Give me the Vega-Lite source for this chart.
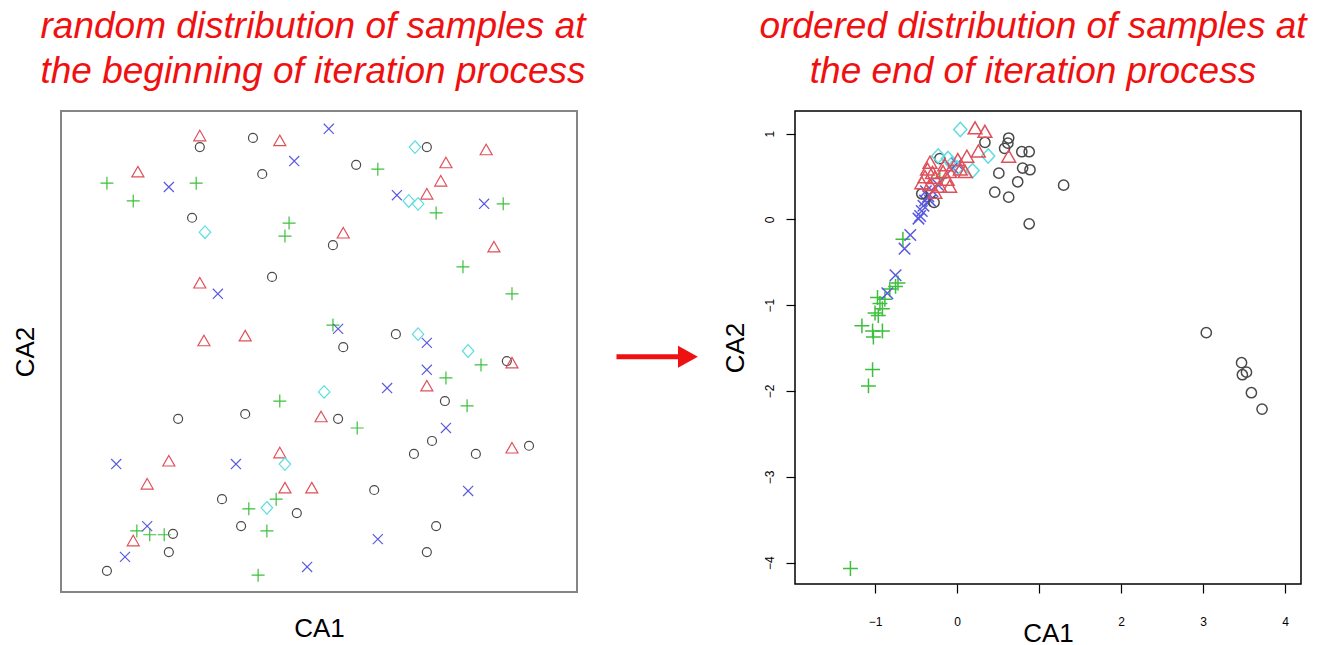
{
  "$schema": "https://vega.github.io/schema/vega-lite/v6.json",
  "autosize": "pad",
  "padding": {"left": 11, "top": 7, "right": 5, "bottom": 0},
  "spacing": 0,
  "background": "white",
  "config": {
    "font": "Liberation Sans",
    "view": {"stroke": null},
    "axis": {"grid": false},
    "title": {
      "font": "Liberation Sans",
      "fontSize": 37,
      "fontStyle": "italic",
      "fontWeight": "normal",
      "color": "#f01010",
      "lineHeight": 45,
      "anchor": "middle",
      "frame": "group",
      "offset": 20
    }
  },
  "datasets": {
    "left": [
      {"x": 26.9, "y": 92.5, "c": "o"}, {"x": 37.2, "y": 94.4, "c": "o"}, {"x": 39.0, "y": 86.9, "c": "o"}, {"x": 25.4, "y": 77.8, "c": "o"},
      {"x": 40.9, "y": 65.5, "c": "o"}, {"x": 57.2, "y": 88.8, "c": "o"}, {"x": 70.9, "y": 92.5, "c": "o"}, {"x": 52.7, "y": 72.1, "c": "o"},
      {"x": 64.9, "y": 53.6, "c": "o"}, {"x": 54.7, "y": 50.9, "c": "o"}, {"x": 22.7, "y": 36.0, "c": "o"}, {"x": 35.7, "y": 37.0, "c": "o"},
      {"x": 31.2, "y": 19.3, "c": "o"}, {"x": 45.7, "y": 16.4, "c": "o"}, {"x": 34.9, "y": 13.7, "c": "o"}, {"x": 21.7, "y": 12.1, "c": "o"},
      {"x": 20.9, "y": 8.3, "c": "o"}, {"x": 8.9, "y": 4.4, "c": "o"}, {"x": 86.4, "y": 48.0, "c": "o"}, {"x": 74.4, "y": 39.7, "c": "o"},
      {"x": 53.7, "y": 36.0, "c": "o"}, {"x": 71.9, "y": 31.4, "c": "o"}, {"x": 68.4, "y": 28.7, "c": "o"}, {"x": 80.4, "y": 28.7, "c": "o"},
      {"x": 90.7, "y": 30.4, "c": "o"}, {"x": 60.7, "y": 21.2, "c": "o"}, {"x": 72.7, "y": 13.7, "c": "o"}, {"x": 70.9, "y": 8.3, "c": "o"},
      {"x": 26.9, "y": 94.6, "c": "tri"}, {"x": 42.4, "y": 93.6, "c": "tri"}, {"x": 14.9, "y": 87.1, "c": "tri"}, {"x": 26.9, "y": 64.0, "c": "tri"},
      {"x": 27.7, "y": 52.0, "c": "tri"}, {"x": 35.7, "y": 53.0, "c": "tri"}, {"x": 82.4, "y": 91.7, "c": "tri"}, {"x": 74.6, "y": 89.0, "c": "tri"},
      {"x": 73.6, "y": 85.2, "c": "tri"}, {"x": 70.9, "y": 82.5, "c": "tri"}, {"x": 54.7, "y": 74.4, "c": "tri"}, {"x": 83.9, "y": 71.5, "c": "tri"},
      {"x": 50.4, "y": 36.2, "c": "tri"}, {"x": 42.4, "y": 28.7, "c": "tri"}, {"x": 20.9, "y": 27.0, "c": "tri"}, {"x": 16.7, "y": 22.2, "c": "tri"},
      {"x": 43.4, "y": 21.4, "c": "tri"}, {"x": 48.6, "y": 21.4, "c": "tri"}, {"x": 14.0, "y": 10.4, "c": "tri"}, {"x": 87.4, "y": 47.4, "c": "tri"},
      {"x": 70.9, "y": 42.6, "c": "tri"}, {"x": 87.4, "y": 29.7, "c": "tri"},
      {"x": 8.9, "y": 85.0, "c": "plus"}, {"x": 26.2, "y": 85.0, "c": "plus"}, {"x": 14.0, "y": 81.3, "c": "plus"}, {"x": 44.2, "y": 76.7, "c": "plus"},
      {"x": 43.4, "y": 74.0, "c": "plus"}, {"x": 61.4, "y": 87.9, "c": "plus"}, {"x": 72.7, "y": 78.8, "c": "plus"}, {"x": 85.7, "y": 80.7, "c": "plus"},
      {"x": 77.9, "y": 67.6, "c": "plus"}, {"x": 87.4, "y": 62.0, "c": "plus"}, {"x": 52.7, "y": 55.5, "c": "plus"}, {"x": 42.4, "y": 39.7, "c": "plus"},
      {"x": 41.7, "y": 19.3, "c": "plus"}, {"x": 36.4, "y": 17.3, "c": "plus"}, {"x": 14.7, "y": 12.7, "c": "plus"}, {"x": 17.2, "y": 11.9, "c": "plus"},
      {"x": 20.0, "y": 11.9, "c": "plus"}, {"x": 39.9, "y": 12.7, "c": "plus"}, {"x": 38.2, "y": 3.5, "c": "plus"}, {"x": 81.4, "y": 47.2, "c": "plus"},
      {"x": 74.6, "y": 44.5, "c": "plus"}, {"x": 78.7, "y": 38.7, "c": "plus"}, {"x": 57.4, "y": 34.1, "c": "plus"},
      {"x": 51.9, "y": 96.3, "c": "x"}, {"x": 45.2, "y": 89.6, "c": "x"}, {"x": 20.9, "y": 84.2, "c": "x"}, {"x": 30.4, "y": 62.0, "c": "x"},
      {"x": 65.1, "y": 82.5, "c": "x"}, {"x": 82.0, "y": 80.7, "c": "x"}, {"x": 53.7, "y": 54.7, "c": "x"}, {"x": 70.9, "y": 51.8, "c": "x"},
      {"x": 10.7, "y": 26.6, "c": "x"}, {"x": 33.9, "y": 26.6, "c": "x"}, {"x": 16.7, "y": 13.7, "c": "x"}, {"x": 12.4, "y": 7.3, "c": "x"},
      {"x": 47.7, "y": 5.2, "c": "x"}, {"x": 70.9, "y": 46.2, "c": "x"}, {"x": 63.2, "y": 42.4, "c": "x"}, {"x": 74.6, "y": 34.1, "c": "x"},
      {"x": 78.9, "y": 21.0, "c": "x"}, {"x": 61.4, "y": 11.0, "c": "x"},
      {"x": 27.9, "y": 74.8, "c": "dia"}, {"x": 68.6, "y": 92.5, "c": "dia"}, {"x": 67.4, "y": 81.3, "c": "dia"}, {"x": 69.2, "y": 80.7, "c": "dia"},
      {"x": 69.2, "y": 53.6, "c": "dia"}, {"x": 78.9, "y": 50.1, "c": "dia"}, {"x": 51.0, "y": 41.6, "c": "dia"}, {"x": 43.4, "y": 26.6, "c": "dia"},
      {"x": 39.9, "y": 17.5, "c": "dia"}
    ],
    "right": [
      {"x": -0.66, "y": -0.23, "c": "plus"}, {"x": -0.72, "y": -0.74, "c": "plus"}, {"x": -0.75, "y": -0.78, "c": "plus"}, {"x": -0.82, "y": -0.81, "c": "plus"},
      {"x": -0.88, "y": -0.93, "c": "plus"}, {"x": -0.94, "y": -0.98, "c": "plus"}, {"x": -0.97, "y": -0.91, "c": "plus"}, {"x": -0.91, "y": -1.04, "c": "plus"},
      {"x": -1.00, "y": -1.09, "c": "plus"}, {"x": -0.96, "y": -1.12, "c": "plus"}, {"x": -1.16, "y": -1.24, "c": "plus"}, {"x": -1.03, "y": -1.30, "c": "plus"},
      {"x": -0.91, "y": -1.30, "c": "plus"}, {"x": -1.02, "y": -1.37, "c": "plus"}, {"x": -1.03, "y": -1.75, "c": "plus"}, {"x": -1.08, "y": -1.94, "c": "plus"},
      {"x": -1.30, "y": -4.07, "c": "plus"}, {"x": -0.21, "y": 0.48, "c": "plus"},
      {"x": -0.24, "y": 0.41, "c": "x"}, {"x": -0.30, "y": 0.33, "c": "x"}, {"x": -0.35, "y": 0.27, "c": "x"}, {"x": -0.39, "y": 0.22, "c": "x"},
      {"x": -0.41, "y": 0.16, "c": "x"}, {"x": -0.43, "y": 0.10, "c": "x"}, {"x": -0.45, "y": 0.04, "c": "x"}, {"x": -0.47, "y": 0.01, "c": "x"},
      {"x": -0.05, "y": 0.60, "c": "x"}, {"x": 0.0, "y": 0.65, "c": "x"}, {"x": -0.57, "y": -0.18, "c": "x"}, {"x": -0.64, "y": -0.34, "c": "x"},
      {"x": -0.75, "y": -0.65, "c": "x"}, {"x": -0.85, "y": -0.86, "c": "x"}, {"x": -0.38, "y": 0.33, "c": "x"}, {"x": -0.33, "y": 0.22, "c": "x"},
      {"x": 0.34, "y": 0.90, "c": "o"}, {"x": 0.63, "y": 0.95, "c": "o"}, {"x": 0.62, "y": 0.89, "c": "o"}, {"x": 0.58, "y": 0.83, "c": "o"},
      {"x": 0.79, "y": 0.79, "c": "o"}, {"x": 0.88, "y": 0.79, "c": "o"}, {"x": 0.80, "y": 0.60, "c": "o"}, {"x": 0.89, "y": 0.58, "c": "o"},
      {"x": 0.51, "y": 0.54, "c": "o"}, {"x": 0.74, "y": 0.44, "c": "o"}, {"x": 1.30, "y": 0.40, "c": "o"}, {"x": 0.46, "y": 0.32, "c": "o"},
      {"x": 0.63, "y": 0.26, "c": "o"}, {"x": 0.88, "y": -0.05, "c": "o"}, {"x": 3.04, "y": -1.32, "c": "o"}, {"x": 3.47, "y": -1.67, "c": "o"},
      {"x": 3.53, "y": -1.78, "c": "o"}, {"x": 3.48, "y": -1.81, "c": "o"}, {"x": 3.59, "y": -2.02, "c": "o"}, {"x": 3.72, "y": -2.21, "c": "o"},
      {"x": -0.43, "y": 0.30, "c": "o"}, {"x": -0.28, "y": 0.20, "c": "o"}, {"x": -0.21, "y": 0.71, "c": "o"},
      {"x": 0.04, "y": 1.05, "c": "dia"}, {"x": -0.23, "y": 0.74, "c": "dia"}, {"x": -0.11, "y": 0.71, "c": "dia"}, {"x": 0.38, "y": 0.74, "c": "dia"},
      {"x": 0.19, "y": 0.57, "c": "dia"}, {"x": 0.0, "y": 0.60, "c": "dia"}, {"x": -0.06, "y": 0.65, "c": "dia"},
      {"x": 0.22, "y": 1.05, "c": "tri"}, {"x": 0.34, "y": 1.01, "c": "tri"}, {"x": 0.26, "y": 0.78, "c": "tri"}, {"x": 0.63, "y": 0.72, "c": "tri"},
      {"x": 0.12, "y": 0.72, "c": "tri"}, {"x": 0.01, "y": 0.68, "c": "tri"}, {"x": -0.33, "y": 0.65, "c": "tri"}, {"x": -0.36, "y": 0.57, "c": "tri"},
      {"x": -0.30, "y": 0.53, "c": "tri"}, {"x": -0.17, "y": 0.54, "c": "tri"}, {"x": -0.09, "y": 0.54, "c": "tri"}, {"x": 0.04, "y": 0.57, "c": "tri"},
      {"x": 0.10, "y": 0.54, "c": "tri"}, {"x": -0.39, "y": 0.48, "c": "tri"}, {"x": -0.27, "y": 0.47, "c": "tri"}, {"x": -0.12, "y": 0.45, "c": "tri"},
      {"x": -0.21, "y": 0.37, "c": "tri"}, {"x": -0.09, "y": 0.37, "c": "tri"}, {"x": -0.33, "y": 0.39, "c": "tri"}, {"x": -0.27, "y": 0.30, "c": "tri"},
      {"x": -0.15, "y": 0.62, "c": "tri"}, {"x": -0.43, "y": 0.41, "c": "tri"}
    ],
    "arrow": [{"x0": 0.22, "x1": 0.70, "xh": 0.745, "y": 0.489}]
  },
  "hconcat": [
    {
      "width": 516,
      "height": 481,
      "view": {"stroke": "#858585", "strokeWidth": 2},
      "title": {"text": ["random distribution of samples at", "the beginning of iteration process"], "dx": -6},
      "data": {"name": "left"},
      "mark": {"type": "point", "filled": false, "strokeWidth": 1.2, "opacity": 1, "size": 196},
      "encoding": {
        "x": {"field": "x", "type": "quantitative", "scale": {"domain": [0, 100], "nice": false, "zero": false},
              "axis": {"title": "CA1", "labels": false, "ticks": false, "domain": false, "tickSize": 0, "labelPadding": 0,
                       "titleFont": "Liberation Sans", "titleFontSize": 26, "titleFontWeight": "normal", "titleColor": "#000000", "titlePadding": 23}},
        "y": {"field": "y", "type": "quantitative", "scale": {"domain": [0, 100], "nice": false, "zero": false},
              "axis": {"title": "CA2", "labels": false, "ticks": false, "domain": false, "tickSize": 0, "labelPadding": 0,
                       "titleFont": "Liberation Sans", "titleFontSize": 26, "titleFontWeight": "normal", "titleColor": "#000000", "titlePadding": 23}},
        "shape": {"field": "c", "type": "nominal", "legend": null,
                  "scale": {"domain": ["o", "tri", "plus", "x", "dia"],
                            "range": ["M0.64,0A0.64,0.64,0,1,1,-0.64,0A0.64,0.64,0,1,1,0.64,0Z", "M0,-0.95L0.86,0.55L-0.86,0.55Z", "M-0.93,0L0.93,0M0,-0.93L0,0.93", "M-0.72,-0.72L0.72,0.72M-0.72,0.72L0.72,-0.72", "M0,-0.9L0.82,0L0,0.9L-0.82,0Z"]}},
        "color": {"field": "c", "type": "nominal", "legend": null,
                  "scale": {"domain": ["o", "tri", "plus", "x", "dia"], "range": ["#4a4a4a", "#e0505a", "#3cc03c", "#5a5ae0", "#5ddde0"]}}
      }
    },
    {
      "width": 134,
      "height": 481,
      "view": {"stroke": null},
      "title": {"text": [" ", " "]},
      "data": {"name": "arrow"},
      "layer": [
        {
          "mark": {"type": "rule", "strokeWidth": 5, "color": "#ee1111"},
          "encoding": {
            "x": {"field": "x0", "type": "quantitative", "scale": {"domain": [0, 1], "nice": false}, "axis": null},
            "x2": {"field": "x1"},
            "y": {"field": "y", "type": "quantitative", "scale": {"domain": [0, 1], "nice": false}, "axis": null}
          }
        },
        {
          "mark": {"type": "point", "shape": "M-0.8,-1L1,0L-0.8,1Z", "filled": true, "size": 484, "color": "#ee1111", "opacity": 1, "strokeWidth": 0},
          "encoding": {
            "x": {"field": "xh", "type": "quantitative"},
            "y": {"field": "y", "type": "quantitative"}
          }
        }
      ]
    },
    {
      "width": 506,
      "height": 473,
      "view": {"stroke": "#000000", "strokeWidth": 1.5},
      "title": {"text": ["ordered distribution of samples at", "the end of iteration process"], "dx": -15},
      "data": {"name": "right"},
      "mark": {"type": "point", "filled": false, "strokeWidth": 1.5, "opacity": 1, "size": 256},
      "encoding": {
        "x": {"field": "x", "type": "quantitative", "scale": {"domain": [-1.976, 4.195], "nice": false, "zero": false},
              "axis": {"title": "CA1", "values": [-1, 0, 1, 2, 3, 4], "labelExpr": "datum.value == 1 ? '' : datum.label",
                       "domain": false, "ticks": true, "tickSize": 9, "tickColor": "#000000", "tickWidth": 1.2,
                       "labelFont": "Liberation Sans", "labelFontSize": 12, "labelColor": "#000000", "labelPadding": 23,
                       "titleFont": "Liberation Sans", "titleFontSize": 26, "titleFontWeight": "normal", "titleColor": "#000000", "titlePadding": -7}},
        "y": {"field": "y", "type": "quantitative", "scale": {"domain": [-4.25, 1.265], "nice": false, "zero": false},
              "axis": {"title": "CA2", "values": [-4, -3, -2, -1, 0, 1],
                       "domain": false, "ticks": true, "tickSize": 9, "tickColor": "#000000", "tickWidth": 1.2,
                       "labelFont": "Liberation Sans", "labelFontSize": 12, "labelColor": "#000000", "labelPadding": 10,
                       "labelAngle": 270, "labelAlign": "center", "labelBaseline": "bottom",
                       "titleFont": "Liberation Sans", "titleFontSize": 26, "titleFontWeight": "normal", "titleColor": "#000000", "titlePadding": 15}},
        "shape": {"field": "c", "type": "nominal", "legend": null,
                  "scale": {"domain": ["o", "tri", "plus", "x", "dia"],
                            "range": ["M0.64,0A0.64,0.64,0,1,1,-0.64,0A0.64,0.64,0,1,1,0.64,0Z", "M0,-0.95L0.86,0.55L-0.86,0.55Z", "M-0.93,0L0.93,0M0,-0.93L0,0.93", "M-0.72,-0.72L0.72,0.72M-0.72,0.72L0.72,-0.72", "M0,-0.9L0.82,0L0,0.9L-0.82,0Z"]}},
        "color": {"field": "c", "type": "nominal", "legend": null,
                  "scale": {"domain": ["o", "tri", "plus", "x", "dia"], "range": ["#000000", "#e80000", "#00c800", "#0000e8", "#30d8e0"]}}
      }
    }
  ]
}
